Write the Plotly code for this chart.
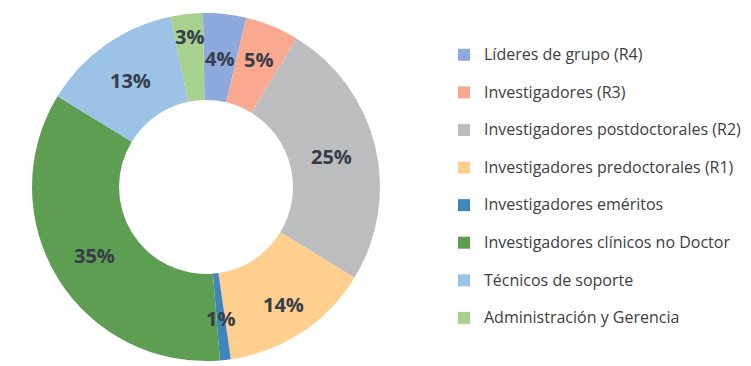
import math
import plotly.graph_objects as go

labels = ["Líderes de grupo (R4)", "Investigadores (R3)", "Investigadores postdoctorales (R2)",
          "Investigadores predoctorales (R1)", "Investigadores eméritos",
          "Investigadores clínicos no Doctor", "Técnicos de soporte", "Administración y Gerencia"]
values = [4, 5, 25, 14, 1, 35, 13, 3]
colors = ["#8EA9DB", "#F9A98F", "#BCBDBE", "#FECF8E", "#3F86BF", "#5E9E53", "#9CC3E5", "#A8D18F"]

# style: radial position of each percentage label, as a fraction of the outer radius
label_radius = [0.74, 0.79, 0.74, 0.81, 0.76, 0.75, 0.75, 0.87]

W, H = 751, 366
cx, cy, r = 206, 187, 174
rotation = -1
hole = 0.5

legend_labels = ['<span style="font-size:16px;baseline-shift:5px">%s</span>' % l for l in labels]

fig = go.Figure(go.Pie(
    labels=legend_labels,
    values=values,
    marker=dict(colors=colors, line=dict(width=0)),
    hole=hole,
    sort=False,
    direction="clockwise",
    rotation=rotation,
    textinfo="none",
    hovertemplate="%{label}: %{value}%<extra></extra>",
    domain=dict(x=[(cx - r) / W, (cx + r) / W], y=[(H - cy - r) / H, (H - cy + r) / H]),
))

total = sum(values)
cum = 0
for v, fr in zip(values, label_radius):
    theta = math.radians(rotation + (cum + v / 2) / total * 360)
    cum += v
    px = cx + fr * r * math.sin(theta)
    py = cy - fr * r * math.cos(theta)
    fig.add_annotation(
        x=px / W, y=(H - py) / H, xref="paper", yref="paper",
        text="%d%%" % v, showarrow=False,
        font=dict(family="Open Sans", size=20, color="#363C48", weight="bold"),
        xanchor="center", yanchor="middle",
    )

fig.update_layout(
    width=W, height=H,
    margin=dict(l=0, r=0, t=0, b=0),
    paper_bgcolor="white",
    plot_bgcolor="white",
    legend=dict(
        x=444 / W, xanchor="left",
        y=(H - 186.5) / H, yanchor="middle",
        font=dict(family="Open Sans", size=26.6, color="#404040"),
        bgcolor="rgba(0,0,0,0)",
    ),
    showlegend=True,
)

fig.write_html("out.html", config={"displayModeBar": False},
               post_script="document.body.style.margin='0';")
